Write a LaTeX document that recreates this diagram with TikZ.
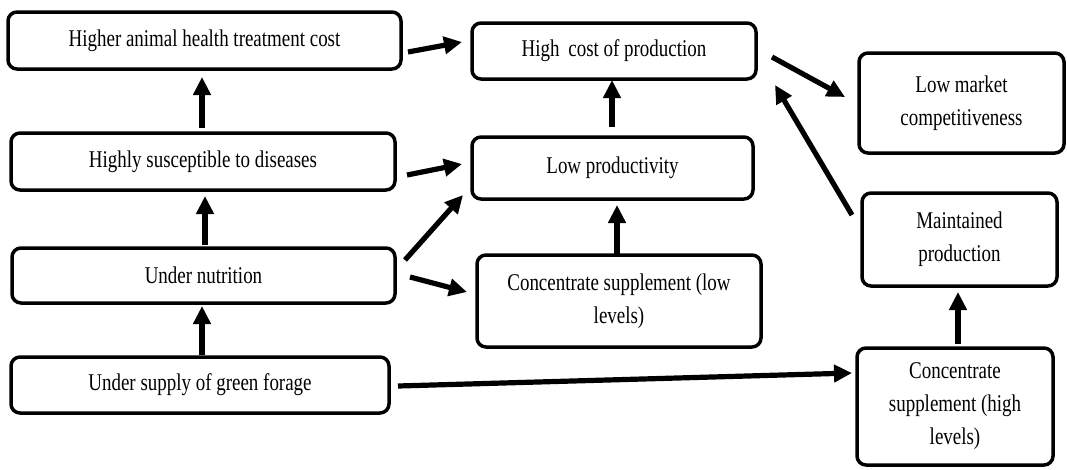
\documentclass[tikz,border=0pt]{standalone}
\usepackage{fontspec}
\setmainfont[FakeStretch=0.79]{Liberation Serif}
\usetikzlibrary{arrows.meta,calc}
\tikzset{
  box/.style={draw=black, line width=3.5pt, rounded corners=9pt, fill=white,
    align=center, inner sep=0pt, outer sep=0pt,
    font=\fontsize{24}{33}\selectfont},
  arr/.style={line width=5.2pt, -{Triangle[length=18pt,width=17pt]}}
}
\begin{document}
\begin{tikzpicture}[x=1pt,y=-1pt]
\useasboundingbox (0,0) rectangle (1067,469);
% boxes
\node[box, minimum width=393pt, minimum height=57pt] (b1) at (204.5,40.5) {Higher animal health treatment cost};
\node[box, minimum width=384pt, minimum height=57pt] (b2) at (203,161.5) {Highly susceptible to diseases};
\node[box, minimum width=383pt, minimum height=55pt] (b3) at (203.5,275.5) {Under nutrition};
\node[box, minimum width=378pt, minimum height=56pt] (b4) at (200,385) {Under supply of green forage};
\node[box, minimum width=284pt, minimum height=56pt] (b5) at (614,51) {High\, cost of production};
\node[box, minimum width=281pt, minimum height=62pt] (b6) at (612.5,168) {Low productivity};
\node[box, minimum width=284pt, minimum height=92pt] (b7) at (619,301) {Concentrate supplement (low\\levels)};
\node[box, minimum width=205pt, minimum height=100pt] (b8) at (961.5,103) {Low market\\competitiveness};
\node[box, minimum width=195pt, minimum height=93pt] (b9) at (959.5,239.5) {Maintained\\production};
\node[box, minimum width=196pt, minimum height=117pt] (b10) at (955,406.5) {Concentrate\\supplement (high\\levels)};
% connectors
\draw[arr] ($(b1.east)+(7,11.5)$) -- ($(b5.west)+(-10,-9)$);
\draw[arr] ($(b2.north)+(-1,-5)$) -- ($(b1.south)+(-2.5,8)$);
\draw[arr] ($(b3.north)+(1.5,-3)$) -- ($(b2.south)+(2,6)$);
\draw[arr] ($(b4.north)+(2,-2)$) -- ($(b3.south)+(-1.5,3)$);
\draw[arr] ($(b2.east)+(12,13.5)$) -- ($(b6.west)+(-10,-4)$);
\draw[arr] ($(b3.east)+(10,-15.5)$) -- ($(b6.west)+(-9,27)$);
\draw[arr] ($(b3.east)+(15,1.5)$) -- ($(b7.west)+(-10,-9)$);
\draw[arr] ($(b6.north)+(-0.5,-10)$) -- ($(b5.south)+(-2,1)$);
\draw[arr] ($(b7.north)+(-2,0)$) -- ($(b6.south)+(4.5,6)$);
\draw[arr] ($(b5.east)+(16,6)$) -- ($(b8.west)+(-14,-6)$);
\draw[arr] ($(b9.west)+(-10,-24.5)$) -- ($(b5.east)+(19,34)$);
\draw[arr] ($(b4.east)+(9,1)$) -- ($(b10.west)+(-5,-33.5)$);
\draw[arr] ($(b10.north)+(3,-4)$) -- ($(b9.south)+(-1.5,6)$);
\end{tikzpicture}
\end{document}
